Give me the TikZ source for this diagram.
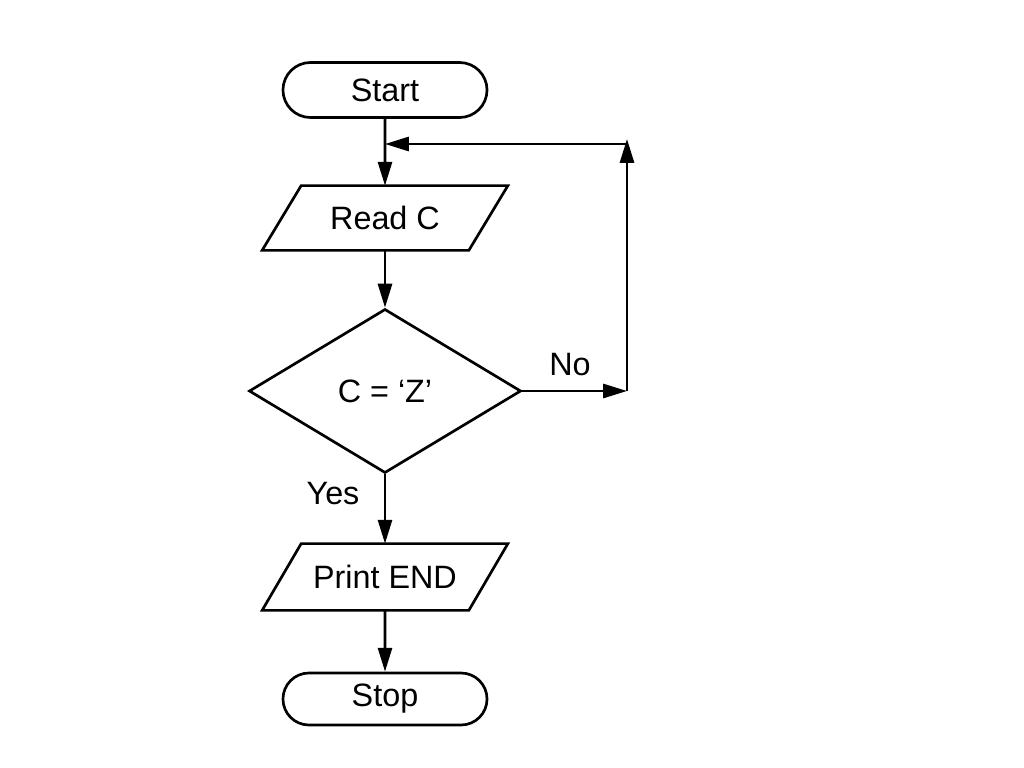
\documentclass[tikz,border=0pt]{standalone}
\usepackage{fontspec}
\setmainfont{Liberation Sans}
\usetikzlibrary{arrows.meta,shapes.misc,shapes.geometric}
\begin{document}
\begin{tikzpicture}[x=0.025cm,y=-0.025cm,
  line width=1.9pt,
  txt/.style={font=\fontsize{23}{27}\selectfont},
  term/.style={rounded rectangle, draw, minimum width=5.1cm, inner sep=0pt, txt},
  iobox/.style={rectangle, minimum width=5.1cm, inner sep=0pt, txt},
  decision/.style={diamond, draw, minimum width=6.8cm, minimum height=4.1cm, inner sep=0pt, txt},
  arr/.style={-{Triangle[length=17pt,width=10pt]}},
  lbl/.style={txt, inner sep=0pt}
]
\useasboundingbox (0,0) rectangle (1024,768);

\node[term, minimum height=1.375cm] (start) at (385,90) {Start};
\node[iobox, minimum height=1.55cm] (read) at (385,218) {Read C};
\node[decision] (dec) at (385,391) {C = ‘Z’};
\node[iobox, minimum height=1.6cm] (print) at (385,577) {Print END};
\node[term, minimum height=1.3cm] (stop) at (385,699) {Stop};

% parallelograms
\draw ([xshift=0.4875cm]read.north west) -- ([xshift=0.4875cm]read.north east)
  -- ([xshift=-0.4875cm]read.south east) -- ([xshift=-0.4875cm]read.south west) -- cycle;
\draw ([xshift=0.4875cm]print.north west) -- ([xshift=0.4875cm]print.north east)
  -- ([xshift=-0.4875cm]print.south east) -- ([xshift=-0.4875cm]print.south west) -- cycle;

% loop coordinates
\coordinate (nr) at (627,391);
\coordinate (ntop) at (627,139);
\coordinate (ncorner) at (627,144);
\coordinate (join) at (385,144);

\draw[arr] (start) -- (read);
\draw[arr] (read) -- (dec);
\draw[arr] (dec) -- (print);
\draw[arr] (print) -- (stop);
\draw[arr] (dec.east) -- (nr);
\draw[arr] (nr) -- (ntop);
\draw[arr] (ncorner) -- (join);

\node[lbl] (no) at (570,365) {No};
\node[lbl] (yes) at (333,494) {Yes};
\end{tikzpicture}
\end{document}
